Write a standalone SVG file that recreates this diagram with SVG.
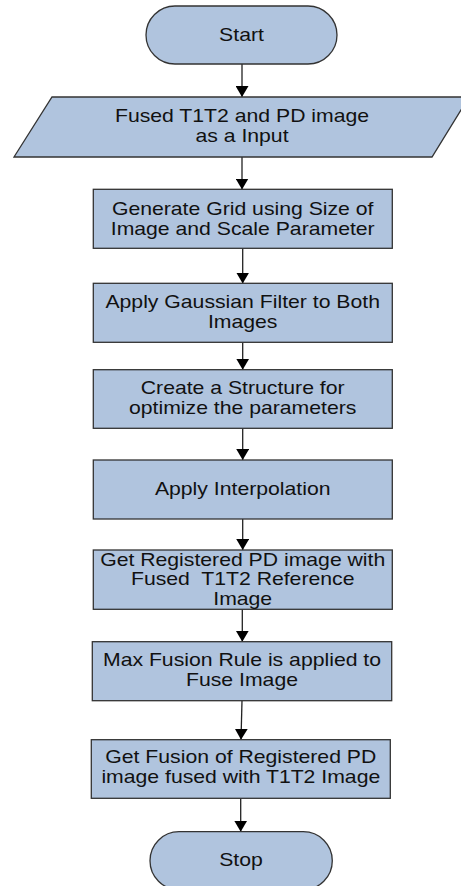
<svg xmlns="http://www.w3.org/2000/svg" width="461" height="886" viewBox="0 0 461 886">
<defs>
<style>
.n{fill:#b0c4de;stroke:#333;stroke-width:1.3}
.t{font-family:"Liberation Sans",Arial,sans-serif;font-size:18.6px;fill:#111;text-anchor:middle}
.c{stroke:#222;stroke-width:1.3;fill:none;marker-end:url(#ah)}
</style>
<marker id="ah" viewBox="0 0 11 13" markerWidth="11" markerHeight="13" refX="11" refY="6.5" orient="auto" markerUnits="userSpaceOnUse">
<path d="M0,0 L11,6.5 L0,13 z" fill="#000"/>
</marker>
</defs>
<rect width="461" height="886" fill="#fff"/>
<g id="connectors">
<line class="c" x1="242" y1="64" x2="242" y2="97"/>
<line class="c" x1="242" y1="157" x2="242" y2="189.5"/>
<line class="c" x1="242.7" y1="248.5" x2="242.7" y2="283.5"/>
<line class="c" x1="242.7" y1="342.5" x2="242.7" y2="369.7"/>
<line class="c" x1="242.7" y1="428.5" x2="242.7" y2="460"/>
<line class="c" x1="242.7" y1="519" x2="242.7" y2="550"/>
<line class="c" x1="242.3" y1="609.3" x2="242.3" y2="641.7"/>
<line class="c" x1="242" y1="700.7" x2="241" y2="739.7"/>
<line class="c" x1="240.7" y1="798.3" x2="240.7" y2="831.7"/>
</g>
<g id="start">
<rect class="n" x="146" y="6" width="191" height="58" rx="29" ry="29"/>
<text class="t" transform="translate(241.5 40.7) scale(1.14 1)">Start</text>
</g>
<g id="input">
<polygon class="n" points="52,97 469,97 432,157 14,157"/>
<text class="t" transform="translate(242 122) scale(1.14 1)"><tspan x="0" y="0">Fused T1T2 and PD image</tspan><tspan x="0" y="20">as a Input</tspan></text>
</g>
<g id="grid">
<rect class="n" x="93.3" y="189.3" width="299" height="59"/>
<text class="t" transform="translate(242.7 214.7) scale(1.14 1)"><tspan x="0" y="0">Generate Grid using Size of</tspan><tspan x="0" y="20">Image and Scale Parameter</tspan></text>
</g>
<g id="gaussian">
<rect class="n" x="93.3" y="283.3" width="299" height="59"/>
<text class="t" transform="translate(242.7 308) scale(1.14 1)"><tspan x="0" y="0">Apply Gaussian Filter to Both</tspan><tspan x="0" y="20">Images</tspan></text>
</g>
<g id="structure">
<rect class="n" x="93.3" y="369.7" width="299" height="58.6"/>
<text class="t" transform="translate(242.7 394) scale(1.14 1)"><tspan x="0" y="0">Create a Structure for</tspan><tspan x="0" y="20">optimize the parameters</tspan></text>
</g>
<g id="interpolation">
<rect class="n" x="93.3" y="460" width="299" height="59"/>
<text class="t" transform="translate(242.7 495) scale(1.14 1)">Apply Interpolation</text>
</g>
<g id="registered">
<rect class="n" x="93.3" y="550" width="299" height="59.3"/>
<text class="t" xml:space="preserve" transform="translate(242.7 565.5) scale(1.14 1)"><tspan x="0" y="0">Get Registered PD image with</tspan><tspan x="0" y="20">Fused  T1T2 Reference</tspan><tspan x="0" y="40">Image</tspan></text>
</g>
<g id="maxfusion">
<rect class="n" x="92.3" y="641.7" width="299.4" height="59"/>
<text class="t" transform="translate(242 666.3) scale(1.14 1)"><tspan x="0" y="0">Max Fusion Rule is applied to</tspan><tspan x="0" y="20">Fuse Image</tspan></text>
</g>
<g id="fusion">
<rect class="n" x="91.3" y="739.7" width="299" height="58.6"/>
<text class="t" transform="translate(240.8 763.3) scale(1.14 1)"><tspan x="0" y="0">Get Fusion of Registered PD</tspan><tspan x="0" y="20">image fused with T1T2 Image</tspan></text>
</g>
<g id="stop">
<rect class="n" x="150" y="831.7" width="182.3" height="58" rx="29" ry="29"/>
<text class="t" transform="translate(241 866) scale(1.14 1)">Stop</text>
</g>
</svg>
